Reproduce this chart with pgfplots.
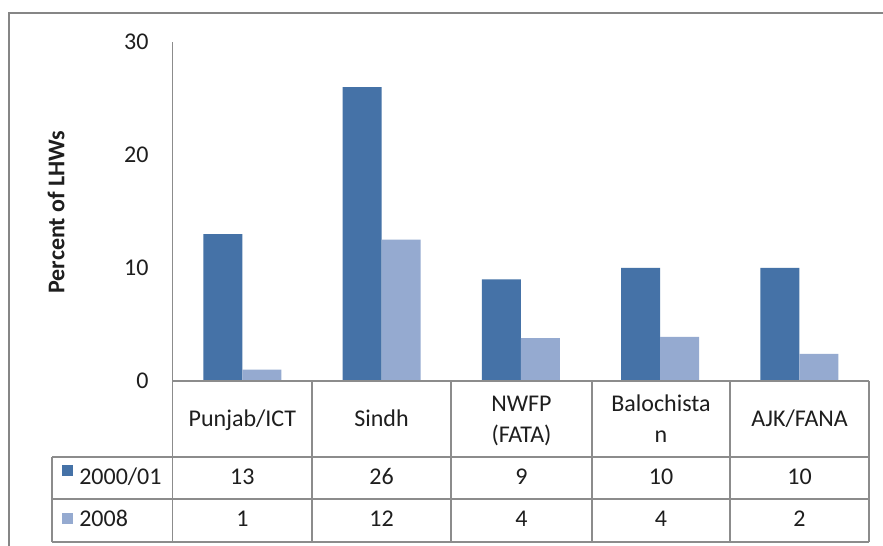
\documentclass[border=0pt]{standalone}
\usepackage{fontspec}
\setmainfont{Carlito}
\usepackage{pgfplots}
\pgfplotsset{compat=1.18}
\definecolor{darkbar}{RGB}{69,114,167}
\definecolor{lightbar}{RGB}{149,170,208}
\definecolor{frame}{RGB}{134,134,134}
\definecolor{grid}{RGB}{140,140,140}
\definecolor{txt}{RGB}{30,30,30}

\begin{document}
\begin{tikzpicture}[x=0.75pt,y=0.75pt,font=\fontsize{18}{23}\selectfont]
\clip (0,0) rectangle (883,546);
\fill[white] (0,0) rectangle (883,546);
% outer chart frame (runs off the image at right and bottom)
\draw[frame, line width=1.6pt] (9,-20) -- (9,533) -- (900,533);

% y label
\node[rotate=90, font=\fontsize{18}{23}\selectfont\bfseries, text=txt] at (56,334) {Percent of LHWs};

\begin{axis}[
  at={(129.525pt,123.75pt)}, anchor=origin,
  scale only axis, width=522.2pt, height=254.25pt,
  xmin=0, xmax=5, ymin=0, ymax=30,
  ybar=0pt, bar width=29.25pt,
  axis x line=none,
  axis y line=left,
  y axis line style={draw=grid, -},
  ytick={0,10,20,30},
  major tick length=0pt,
  yticklabel style={anchor=east, inner sep=0pt, xshift=-18pt, text=txt,
    font=\fontsize{18}{23}\selectfont},
  /pgf/number format/assume math mode=true,
  clip=false,
]
\addplot[fill=darkbar, draw=none] coordinates {(0.5,13) (1.5,26) (2.5,9) (3.5,10) (4.5,10)};
\addplot[fill=lightbar, draw=none] coordinates {(0.5,1) (1.5,12.5) (2.5,3.8) (3.5,3.9) (4.5,2.4)};
\end{axis}

% data table under the plot
\begin{scope}[grid, line width=0.8pt]
\draw (172.7,165) -- (869,165);
\draw (52,89) -- (869,89);
\draw (52,47) -- (869,47);
\draw (52,4) -- (869,4);
\draw (52,89) -- (52,4);
\foreach \x in {172.7,312,451,592,730,869} \draw (\x,165) -- (\x,4);
\end{scope}

\begin{scope}[text=txt, every node/.style={anchor=base, inner sep=0pt}]
\node at (242.4,119) {Punjab/ICT};
\node at (381.5,119) {Sindh};
\node at (521.5,134) {NWFP};
\node at (521.5,103) {(FATA)};
\node at (661,134) {Balochista};
\node at (661,103) {n};
\node at (799.5,119) {AJK/FANA};
% 2000/01 row
\node at (242.4,61) {13};
\node at (381.5,61) {26};
\node at (521.5,61) {9};
\node at (661,61) {10};
\node at (799.5,61) {10};
% 2008 row
\node at (242.4,19) {1};
\node at (381.5,19) {12};
\node at (521.5,19) {4};
\node at (661,19) {4};
\node at (799.5,19) {2};
% legend keys
\fill[darkbar] (62,70) rectangle (73,81);
\node[anchor=base west] at (79,61) {2000/01};
\fill[lightbar] (62,22) rectangle (73,33);
\node[anchor=base west] at (79,19) {2008};
\end{scope}
\end{tikzpicture}
\end{document}
